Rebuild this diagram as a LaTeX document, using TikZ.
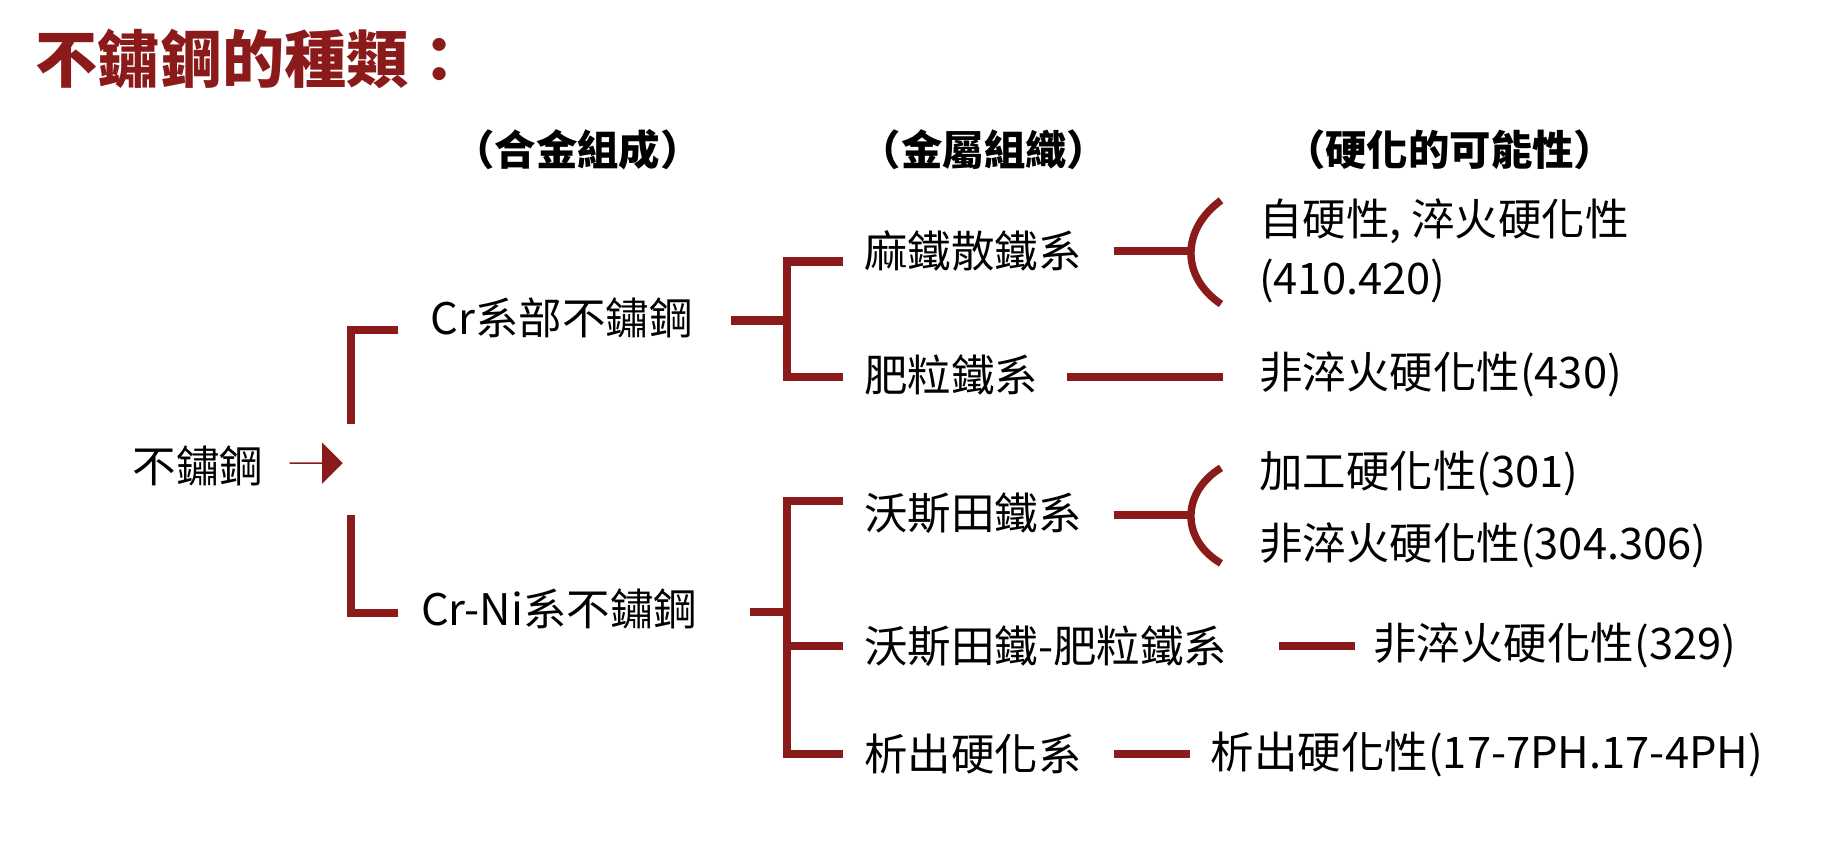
\documentclass[tikz,border=0pt]{standalone}
\usepackage{fontspec}
\setmainfont{Liberation Sans}
\newfontfamily\cjk{Noto Sans CJK TC}
\usetikzlibrary{positioning,shapes.arrows}
\definecolor{steelred}{HTML}{8B1A1A}

\begin{document}
\begin{tikzpicture}[x=0.02cm,y=-0.02cm,
  txt/.style={inner sep=0pt,font=\cjk\fontsize{21}{25}\selectfont},
  head/.style={inner sep=0pt,font=\cjk\bfseries\fontsize{20}{24}\selectfont},
  link/.style={draw=steelred,line width=4pt},
  brace/.style={draw=steelred,line width=3.6pt}]
\useasboundingbox (0,0) rectangle (1568,722);

\node[anchor=west,inner sep=0pt,text=steelred,font=\cjk\bfseries\fontsize{30}{34}\selectfont] (title) at (30,50) {不鏽鋼的種類：};

\node[head] (h1) at (490,127) {（合金組成）};
\node[head] (h2) at (835,127) {（金屬組織）};
\node[head] (h3) at (1230,127) {（硬化的可能性）};

\node[txt] (root) at (168,395) {不鏽鋼};
\node[single arrow,fill=steelred,inner sep=0pt,single arrow head extend=0.2cm,
  minimum width=0.7cm,minimum height=0.9cm] (arr) at (268,393) {};

\node[txt,anchor=west] (cr) at (365,270) {Cr系部不鏽鋼};
\node[txt,anchor=west] (crni) at (357,517) {Cr-Ni系不鏽鋼};

\node[txt,anchor=west] (mart) at (733,213) {麻鐵散鐵系};
\node[txt,anchor=west] (ferr) at (733,318) {肥粒鐵系};
\node[txt,anchor=west] (aust) at (733,435) {沃斯田鐵系};
\node[txt,anchor=west] (duplex) at (733,548) {沃斯田鐵-肥粒鐵系};
\node[txt,anchor=west] (ph) at (733,640) {析出硬化系};

\node[txt,anchor=west] (r1) at (1068,188) {自硬性, 淬火硬化性};
\node[txt,anchor=west] (r2) at (1068,238) {(410.420)};
\node[txt,anchor=west] (r3) at (1068,318) {非淬火硬化性(430)};
\node[txt,anchor=west] (r4) at (1068,402) {加工硬化性(301)};
\node[txt,anchor=west] (r5) at (1068,463) {非淬火硬化性(304.306)};
\node[txt,anchor=west] (r6) at (1165,548) {非淬火硬化性(329)};
\node[txt,anchor=west] (r7) at (1027,640) {析出硬化性(17-7PH.17-4PH)};

% first level
\draw[link] (338,280) -- (298,280) -- (298,360);
\draw[link] (298,437) -- (298,520) -- (338,520);

% second level
\draw[link] (620,272) -- (668,272);
\draw[link] (715,222) -- (668,222) -- (668,320) -- (715,320);
\draw[link] (636,519) -- (668,519);
\draw[link] (715,425) -- (668,425) -- (668,640) -- (715,640);
\draw[link] (668,548) -- (715,548);

% third level
\draw[link] (945,213) -- (1012,213);
\draw[brace] (1036,170) .. controls (1002,195) and (1002,235) .. (1036,258);
\draw[link] (905,320) -- (1038,320);
\draw[link] (945,437) -- (1012,437);
\draw[brace] (1036,397) .. controls (1002,418) and (1002,458) .. (1036,478);
\draw[link] (1085,548) -- (1150,548);
\draw[link] (945,640) -- (1010,640);

\end{tikzpicture}
\end{document}
